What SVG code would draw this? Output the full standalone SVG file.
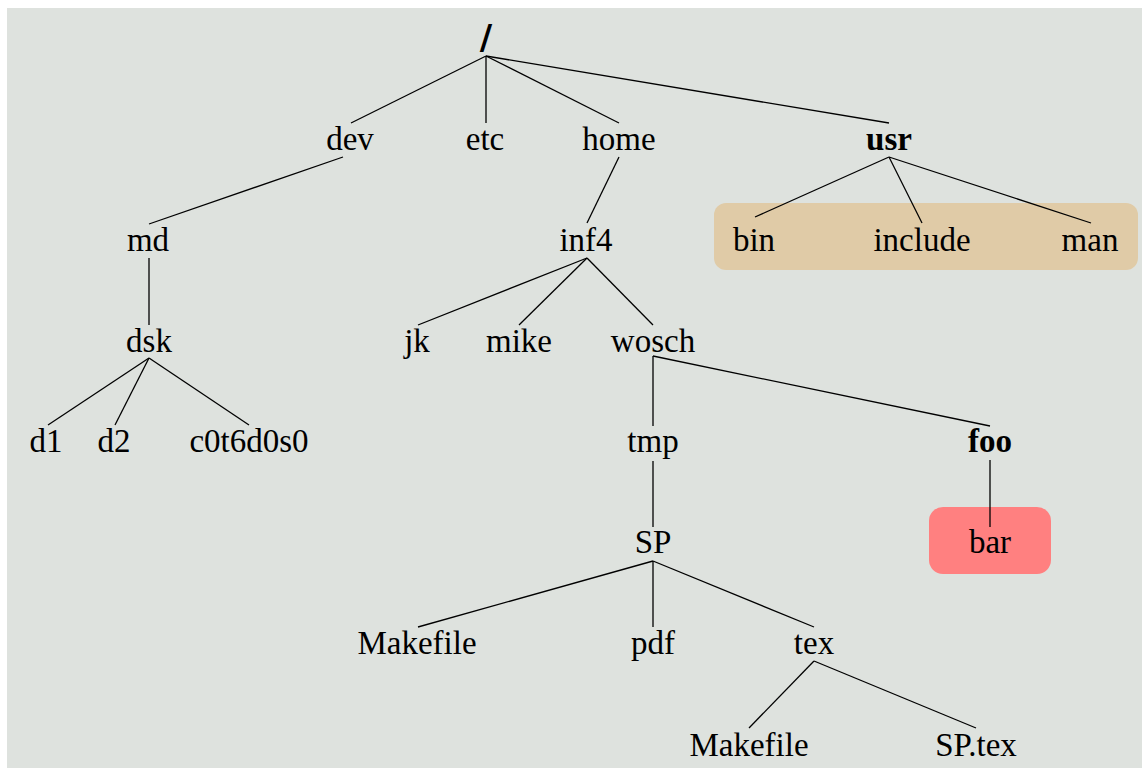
<svg xmlns="http://www.w3.org/2000/svg" width="1142" height="768" viewBox="0 0 1142 768">
<style>
text{font-family:'Liberation Serif','Times New Roman',serif;font-size:33px;fill:#000;text-anchor:middle}
.b{font-weight:bold}
.root{font-family:'DejaVu Sans',sans-serif;font-weight:bold;font-size:34px}
.e line{stroke:#000;stroke-width:1.3}
</style>
<rect x="7" y="8" width="1135" height="760" fill="#dee2de"/>
<rect id="usr-group" x="714" y="203" width="424" height="67" rx="12" fill="#e0cba7"/>
<rect id="bar-box" x="929" y="507" width="122" height="67" rx="14" fill="#ff8080"/>
<g class="e" id="connectors">
<line x1="486" y1="56" x2="351" y2="123"/>
<line x1="486" y1="56" x2="486" y2="123"/>
<line x1="486" y1="56" x2="619" y2="123"/>
<line x1="486" y1="56" x2="889" y2="123"/>
<line x1="343" y1="157" x2="149" y2="224"/>
<line x1="149" y1="258" x2="149" y2="325"/>
<line x1="149" y1="358" x2="48" y2="425"/>
<line x1="149" y1="358" x2="115" y2="425"/>
<line x1="149" y1="358" x2="249" y2="425"/>
<line x1="619" y1="157" x2="587" y2="223"/>
<line x1="587" y1="258" x2="418" y2="325"/>
<line x1="587" y1="258" x2="519" y2="325"/>
<line x1="587" y1="258" x2="653" y2="325"/>
<line x1="889" y1="157" x2="755" y2="217"/>
<line x1="889" y1="157" x2="922" y2="223"/>
<line x1="889" y1="157" x2="1091" y2="223"/>
<line x1="653" y1="356" x2="653" y2="426"/>
<line x1="653" y1="356" x2="990" y2="426"/>
<line x1="653" y1="461" x2="653" y2="527"/>
<line x1="990" y1="460" x2="990" y2="527"/>
<line x1="653" y1="561" x2="418" y2="627"/>
<line x1="653" y1="561" x2="653" y2="627"/>
<line x1="653" y1="561" x2="814" y2="627"/>
<line x1="814" y1="661" x2="749" y2="728"/>
<line x1="814" y1="661" x2="976" y2="728"/>
</g>
<g id="n-root"><text class="root" x="486" y="49">/</text></g>
<g id="n-dev"><text x="350" y="150">dev</text></g>
<g id="n-etc"><text x="485" y="150">etc</text></g>
<g id="n-home"><text x="619" y="150">home</text></g>
<g id="n-usr"><text class="b" x="889" y="150">usr</text></g>
<g id="n-md"><text x="148" y="251">md</text></g>
<g id="n-inf4"><text x="586" y="251">inf4</text></g>
<g id="n-bin"><text x="754" y="251">bin</text></g>
<g id="n-include"><text x="922" y="251">include</text></g>
<g id="n-man"><text x="1090" y="251">man</text></g>
<g id="n-dsk"><text x="149" y="352">dsk</text></g>
<g id="n-jk"><text x="417" y="352">jk</text></g>
<g id="n-mike"><text x="519" y="352">mike</text></g>
<g id="n-wosch"><text x="653" y="352">wosch</text></g>
<g id="n-d1"><text x="46" y="452">d1</text></g>
<g id="n-d2"><text x="114" y="452">d2</text></g>
<g id="n-c0t6d0s0"><text x="249" y="452">c0t6d0s0</text></g>
<g id="n-tmp"><text x="653" y="452">tmp</text></g>
<g id="n-foo"><text class="b" x="990" y="452">foo</text></g>
<g id="n-SP"><text x="653" y="553">SP</text></g>
<g id="n-bar"><text x="990" y="553">bar</text></g>
<g id="n-Makefile1"><text x="417" y="654">Makefile</text></g>
<g id="n-pdf"><text x="653" y="654">pdf</text></g>
<g id="n-tex"><text x="814" y="654">tex</text></g>
<g id="n-Makefile2"><text x="749" y="756">Makefile</text></g>
<g id="n-SPtex"><text x="976" y="756">SP.tex</text></g>
</svg>
